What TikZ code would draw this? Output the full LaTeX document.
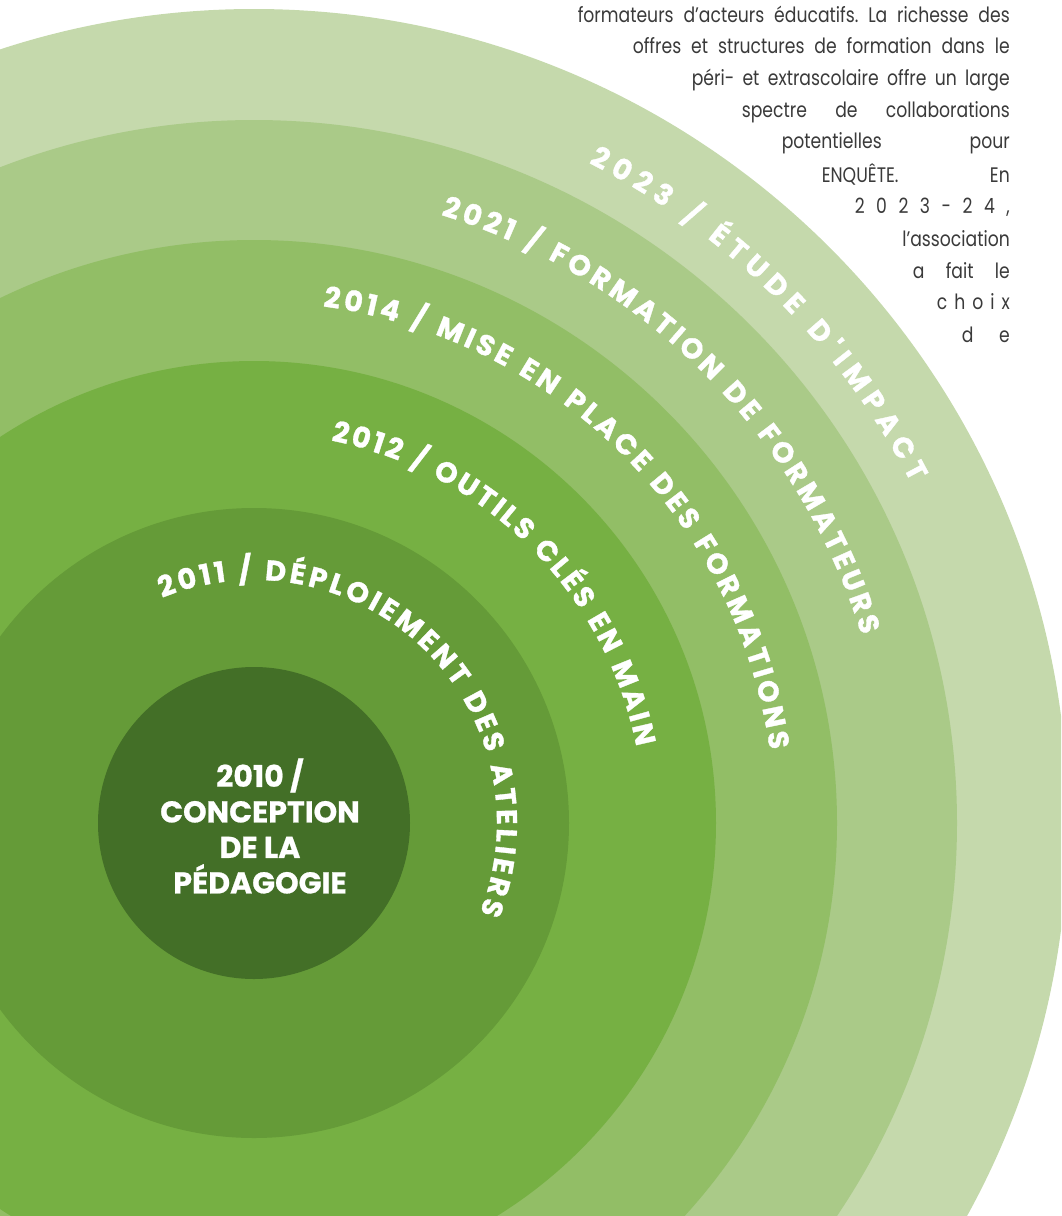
\documentclass[tikz,border=0pt]{standalone}
\usepackage{fontspec}
\setmainfont{Poppins}
\newfontfamily\labfont{Poppins}[BoldFeatures={FakeBold=1.2}]
\newfontfamily\ctrfont{Poppins}[BoldFeatures={FakeBold=0.7}]
\newfontfamily\parafont{Poppins}[FakeStretch=0.82]
\usetikzlibrary{decorations.text}
\definecolor{c2010}{HTML}{436F27}
\definecolor{c2011}{HTML}{659B38}
\definecolor{c2012}{HTML}{76B043}
\definecolor{c2014}{HTML}{92BE66}
\definecolor{c2021}{HTML}{AACA88}
\definecolor{c2023}{HTML}{C5D9AC}
\definecolor{paragray}{HTML}{3A3A3A}
\newcommand{\lbl}{\color{white}\labfont\bfseries\fontsize{28.5pt}{28.5pt}\selectfont}
\tikzset{
  ring/.style={circle, inner sep=0pt, draw=none, minimum size=#1},
  para/.style={anchor=base east, inner sep=0pt, text=paragray, font=\parafont\fontsize{21pt}{21pt}\selectfont\frenchspacing},
  centre/.style={align=center, text=white, inner sep=0pt, font=\ctrfont\bfseries\fontsize{30pt}{35.5pt}\selectfont}
}
\begin{document}
\frenchspacing
\begin{tikzpicture}[x=1pt,y=1pt]
\useasboundingbox (0,0) rectangle (1061,-1216);
\clip (0,0) rectangle (1061,-1216);
\coordinate (C) at (254,-823);
\node[ring=1628pt, fill=c2023] (r2023) at (C) {};
\node[ring=1406pt, fill=c2021] (r2021) at (C) {};
\node[ring=1166pt, fill=c2014] (r2014) at (C) {};
\node[ring=924pt, fill=c2012] (r2012) at (C) {};
\node[ring=630pt, fill=c2011] (r2011) at (C) {};
\node[ring=312pt, fill=c2010] (r2010) at (C) {};
\node[centre] (t2010) at (260,-826) {2010 /\\CONCEPTION\\DE LA\\PÉDAGOGIE};
\path[decorate, decoration={text along path, text align={fit to path}, text={|\lbl|2023 / ÉTUDE D'IMPACT}}]
  ([shift={(63.1:740pt)}]C) arc[start angle=63.1, end angle=27.4, radius=740pt];
\path[decorate, decoration={text along path, text align={fit to path}, text={|\lbl|2021 / FORMATION DE FORMATEURS}}]
  ([shift={(72.9:636pt)}]C) arc[start angle=72.9, end angle=17.2, radius=636pt];
\path[decorate, decoration={text along path, text align={fit to path}, text={|\lbl|2014 / MISE EN PLACE DES FORMATIONS}}]
  ([shift={(82.4:521pt)}]C) arc[start angle=82.4, end angle=8.1, radius=521pt];
\path[decorate, decoration={text along path, text align={fit to path}, text={|\lbl|2012 / OUTILS CLÉS EN MAIN}}]
  ([shift={(78.6:390pt)}]C) arc[start angle=78.6, end angle=11.3, radius=390pt];
\path[decorate, decoration={text along path, text align={fit to path}, text={|\lbl|2011 / DÉPLOIEMENT DES ATELIERS}}]
  ([shift={(112.2:243pt)}]C) arc[start angle=112.2, end angle=-21.7, radius=243pt];
\node[para] (l1) at (1010,-22) {\makebox[432pt][s]{formateurs d’acteurs éducatifs. La richesse des}};
\node[para] (l2) at (1010,-53) {\makebox[377pt][s]{offres et structures de formation dans le}};
\node[para] (l3) at (1010,-85) {\makebox[318pt][s]{péri- et extrascolaire offre un large}};
\node[para] (l4) at (1010,-117) {\makebox[268pt][s]{spectre de collaborations}};
\node[para] (l5) at (1010,-148) {\makebox[228pt][s]{potentielles pour}};
\node[para] (l6) at (1010,-182) {\makebox[188pt][s]{ENQUÊTE. En}};
\node[para] (l7) at (1010,-213) {\makebox[155pt][s]{2 0 2 3 - 2 4 ,}};
\node[para] (l8) at (1010,-246) {l’association};
\node[para] (l9) at (1010,-278) {\makebox[97pt][s]{a fait le}};
\node[para] (l10) at (1010,-309) {\makebox[73pt][s]{c h o i x}};
\node[para] (l11) at (1010,-342) {\makebox[48pt][s]{d e}};
\end{tikzpicture}
\end{document}
